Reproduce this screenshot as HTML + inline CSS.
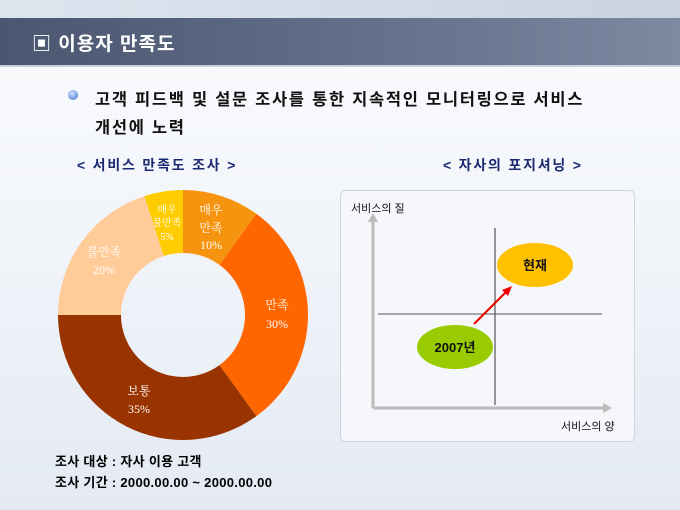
<!DOCTYPE html>
<html><head><meta charset="utf-8"><style>
body{margin:0;width:680px;height:510px;overflow:hidden;font-family:"Liberation Sans","Noto Sans CJK KR",sans-serif;background:linear-gradient(180deg,#fbfcfe 0%,#eef2f8 60%,#e4eaf3 100%);position:relative}
.top{position:absolute;left:0;top:0;width:680px;height:18px;background:linear-gradient(90deg,#dfe5ef,#c9d3e2)}
.band{position:absolute;left:0;top:18px;width:680px;height:47px;background:linear-gradient(90deg,#4b5670,#6a7891 70%,#7d8aa2);border-bottom:2px solid #c8d0dc}
.t{position:absolute;color:#fff;font-size:19px;left:32px;top:29px;font-weight:bold;letter-spacing:1px}
.b{position:absolute;font-size:16.5px;font-weight:bold;color:#111;letter-spacing:1.7px}
.s{position:absolute;font-size:14px;font-weight:bold;color:#222;letter-spacing:1.8px}
</style></head><body>
<div class="top"></div><div class="band"></div>
<div class="t">▣ 이용자 만족도</div>
<div style="position:absolute;left:68px;top:90px;width:10px;height:10px;border-radius:50%;background:radial-gradient(circle at 40% 35%,#cfe0ff,#3b6fd0)"></div>
<div class="b" style="left:95px;top:86px">고객 피드백 및 설문 조사를 통한 지속적인 모니터링으로 서비스</div>
<div class="b" style="left:95px;top:114px">개선에 노력</div>
<div class="s" style="left:77px;top:155px;color:#1b2a70">&lt; 서비스 만족도 조사 &gt;</div>
<div class="s" style="left:443px;top:155px;color:#1b2a70">&lt; 자사의 포지셔닝 &gt;</div>
<svg width="680" height="510" style="position:absolute;left:0;top:0">
<g transform="translate(183,315)">
<path d="M0,-125 A125,125 0 0 1 73.47,-101.13 L36.44,-50.16 A62,62 0 0 0 0,-62Z" fill="#F7940F"/>
<path d="M73.47,-101.13 A125,125 0 0 1 73.47,101.13 L36.44,50.16 A62,62 0 0 0 36.44,-50.16Z" fill="#FF6600"/>
<path d="M73.47,101.13 A125,125 0 0 1 -125,0 L-62,0 A62,62 0 0 0 36.44,50.16Z" fill="#993300"/>
<path d="M-125,0 A125,125 0 0 1 -38.63,-118.88 L-19.16,-58.97 A62,62 0 0 0 -62,0Z" fill="#FFCC99"/>
<path d="M-38.63,-118.88 A125,125 0 0 1 0,-125 L0,-62 A62,62 0 0 0 -19.16,-58.97Z" fill="#FFCC00"/>
</g>
<g fill="#fff" font-size="12" text-anchor="middle" font-family="Liberation Serif,Noto Serif CJK SC,serif">
<text x="211" y="214">매우</text><text x="211" y="232">만족</text><text x="211" y="249">10%</text>
<text x="167" y="213" font-size="10">매우</text><text x="167" y="226" font-size="10">불만족</text><text x="167" y="240" font-size="10">5%</text>
<text x="104" y="256">불만족</text><text x="104" y="274">20%</text>
<text x="277" y="309">만족</text><text x="277" y="328">30%</text>
<text x="139" y="395">보통</text><text x="139" y="413">35%</text>
</g>
<rect x="340.5" y="190.5" width="294" height="251" rx="5" fill="#f5f7fa" stroke="#cfd5de"/>
<g stroke="#bbb" stroke-width="3" fill="none"><line x1="373" y1="408" x2="608" y2="408"/><line x1="373" y1="408" x2="373" y2="218"/></g>
<polygon points="612,408 603,403 603,413" fill="#bbb"/><polygon points="373,213 368,222 378,222" fill="#bbb"/>
<line x1="495" y1="228" x2="495" y2="405" stroke="#333"/><line x1="378" y1="314" x2="602" y2="314" stroke="#555"/>
<ellipse cx="535" cy="265" rx="38" ry="22" fill="#FFC000"/>
<ellipse cx="455" cy="347" rx="38" ry="22" fill="#99CC00"/>
<line x1="474" y1="324" x2="507" y2="291" stroke="#e00" stroke-width="2"/><polygon points="512,286 502,290 508,296" fill="#e00"/>
<g font-weight="bold" font-size="13" text-anchor="middle" fill="#111"><text x="535" y="270">현재</text><text x="455" y="352">2007년</text></g>
<g font-size="11" fill="#111"><text x="351" y="212">서비스의 질</text><text x="561" y="430">서비스의 양</text></g>
</svg>
<div class="s" style="left:55px;top:451px;font-size:13px;color:#000;letter-spacing:0.3px">조사 대상 : 자사 이용 고객</div>
<div class="s" style="left:55px;top:472px;font-size:13px;color:#000;letter-spacing:0.3px">조사 기간 : 2000.00.00 ~ 2000.00.00</div>
</body></html>
